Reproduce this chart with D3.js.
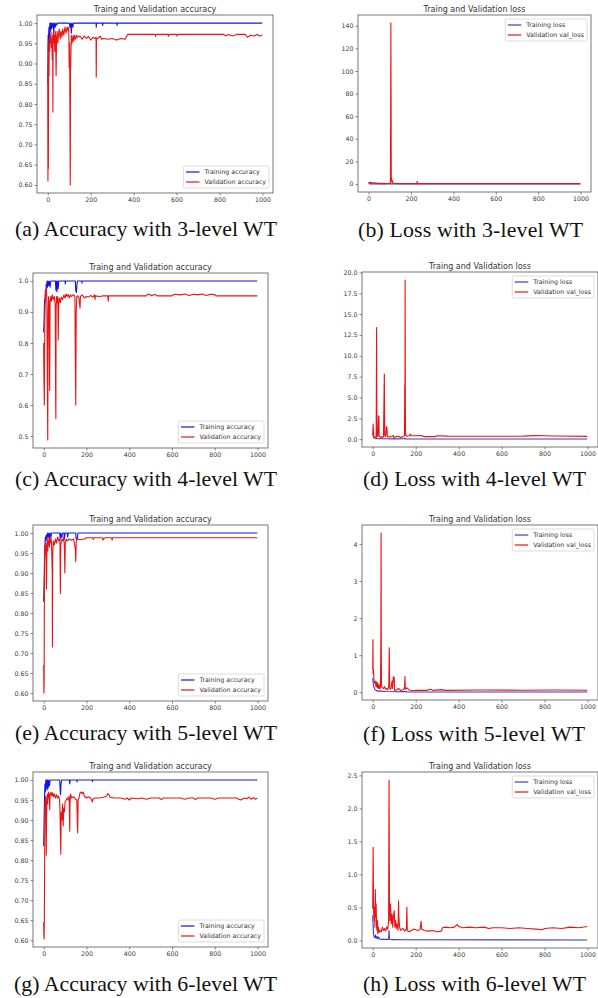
<!DOCTYPE html>
<html><head><meta charset="utf-8">
<script src="https://cdn.jsdelivr.net/npm/d3@7"></script>
<style>body{margin:0;background:#fff}svg{display:block}</style>
</head><body>
<svg id="fig" width="598" height="998"></svg>
<script>
// ---------- tick labels ----------
const epochTicks = [0, 200, 400, 600, 800, 1000];
const accTicks05 = [0.60, 0.65, 0.70, 0.75, 0.80, 0.85, 0.90, 0.95, 1.00];
const accTicks10 = [0.5, 0.6, 0.7, 0.8, 0.9, 1.0];
const lossTicks3 = [0, 20, 40, 60, 80, 100, 120, 140];
const lossTicks4 = [0, 2.5, 5, 7.5, 10, 12.5, 15, 17.5, 20];
const lossTicks5 = [0, 1, 2, 3, 4];
const lossTicks6 = [0, 0.5, 1, 1.5, 2, 2.5];

// ---------- texts ----------
const accTitle = "Traing and Validation accuracy";
const lossTitle = "Traing and Validation loss";
const accLegend = ["Training accuracy", "Validation accuracy"];
const lossLegend = ["Training loss", "Validation val_loss"];
const captions = ["(a) Accuracy with 3-level WT", "(b) Loss with 3-level WT",
  "(c) Accuracy with 4-level WT", "(d) Loss with 4-level WT",
  "(e) Accuracy with 5-level WT", "(f) Loss with 5-level WT",
  "(g) Accuracy with 6-level WT", "(h) Loss with 6-level WT"];

// ---------- series: [epoch, value] ----------
const accTrain3 = [[0,0.85],[1,0.94],[2,0.97],[3,0.93],[4,0.97],[6,0.99],[8,0.96],[10,1.0],[12,0.98],[14,1.0],[17,0.985],[19,1.0],[22,0.99],[25,1.0],[28,0.975],[31,1.0],[35,0.99],[38,1.0],[42,0.995],[45,1.0],[100,1.0],[104,0.99],[107,1.0],[110,0.975],[113,1.0],[117,0.99],[120,1.0],[225,1.0],[226,0.99],[227,1.0],[255,1.0],[256,0.994],[257,1.0],[322,1.0],[323,0.994],[324,1.0],[999,1.0]];
const accVal3 = [[0,0.85],[1,0.61],[2,0.90],[3,0.64],[4,0.93],[5,0.95],[6,0.87],[7,0.96],[9,0.93],[11,0.97],[13,0.95],[15,0.98],[17,0.94],[19,0.96],[21,0.91],[23,0.97],[24,0.78],[25,0.96],[27,0.98],[29,0.95],[31,0.97],[33,0.93],[35,0.98],[37,0.96],[39,0.87],[41,0.96],[44,0.98],[47,0.95],[50,0.97],[54,0.985],[58,0.96],[62,0.98],[66,0.965],[70,0.985],[75,0.97],[80,0.99],[85,0.975],[90,0.99],[95,0.98],[98,0.99],[100,0.89],[102,0.95],[104,0.69],[105,0.60],[106,0.88],[108,0.92],[110,0.97],[113,0.95],[116,0.96],[118,0.97],[122,0.955],[125,0.97],[130,0.96],[135,0.97],[140,0.965],[150,0.968],[160,0.96],[170,0.968],[180,0.962],[190,0.967],[200,0.958],[210,0.965],[220,0.962],[225,0.965],[226,0.867],[227,0.96],[235,0.963],[245,0.968],[250,0.96],[260,0.962],[280,0.96],[300,0.962],[320,0.958],[340,0.962],[360,0.96],[372,0.972],[400,0.972],[500,0.972],[502,0.967],[505,0.972],[560,0.972],[562,0.967],[565,0.972],[600,0.972],[602,0.968],[606,0.972],[820,0.972],[830,0.968],[840,0.972],[860,0.968],[880,0.972],[920,0.972],[930,0.965],[945,0.97],[960,0.968],[975,0.972],[985,0.968],[999,0.97]];
const lossTrain3 = [[0,0.4],[5,0.1],[20,0.05],[999,0.0]];
const lossVal3 = [[0,1.5],[3,0.8],[5,1.6],[8,0.9],[12,1.4],[16,0.7],[20,1.2],[25,0.6],[30,1.0],[35,0.5],[40,0.9],[45,0.4],[50,0.5],[60,0.3],[70,0.5],[80,0.3],[90,0.4],[100,0.5],[103,2.0],[104,60],[105,142.5],[106,80],[107,3],[108,5],[110,1.2],[112,3],[114,0.8],[120,0.4],[150,0.3],[200,0.3],[228,0.3],[229,2.4],[230,0.4],[300,0.3],[999,0.25]];

const accTrain4 = [[0,0.834],[2,0.88],[4,0.94],[6,0.93],[8,0.97],[10,0.96],[12,0.99],[14,0.975],[16,1.0],[18,0.98],[20,1.0],[23,0.985],[26,1.0],[30,0.98],[33,1.0],[55,1.0],[57,0.97],[59,1.0],[62,0.965],[64,1.0],[68,0.975],[70,1.0],[100,1.0],[101,0.99],[102,1.0],[148,1.0],[150,0.968],[153,0.963],[156,0.99],[158,1.0],[178,1.0],[179,0.993],[180,1.0],[999,1.0]];
const accVal4 = [[0,0.80],[1,0.70],[3,0.60],[5,0.85],[7,0.93],[9,0.97],[11,0.95],[13,0.98],[15,0.93],[17,0.70],[19,0.487],[21,0.90],[23,0.95],[25,0.93],[27,0.75],[28,0.647],[30,0.93],[33,0.95],[36,0.935],[40,0.955],[45,0.94],[50,0.95],[54,0.92],[56,0.62],[57,0.556],[58,0.90],[60,0.95],[63,0.93],[66,0.95],[68,0.81],[70,0.92],[73,0.945],[78,0.93],[82,0.948],[88,0.94],[95,0.955],[100,0.945],[105,0.958],[110,0.95],[115,0.956],[120,0.945],[125,0.955],[130,0.95],[140,0.956],[146,0.95],[148,0.75],[150,0.60],[152,0.90],[155,0.95],[160,0.952],[165,0.945],[170,0.912],[172,0.95],[180,0.955],[190,0.945],[200,0.95],[210,0.948],[220,0.953],[230,0.948],[238,0.955],[240,0.94],[242,0.952],[260,0.95],[280,0.952],[300,0.952],[302,0.935],[304,0.952],[480,0.952],[485,0.957],[500,0.955],[505,0.952],[520,0.957],[530,0.952],[600,0.952],[610,0.957],[640,0.955],[660,0.958],[680,0.953],[700,0.957],[720,0.955],[740,0.958],[760,0.953],[780,0.957],[800,0.956],[805,0.952],[999,0.952]];
const lossTrain4 = [[0,0.6],[3,0.3],[6,0.15],[10,0.1],[20,0.06],[40,0.04],[60,0.05],[100,0.03],[148,0.04],[150,0.15],[152,0.03],[200,0.02],[999,0.01]];
const lossVal4 = [[0,0.5],[2,1.8],[3,1.2],[5,0.3],[8,0.2],[12,0.3],[16,0.2],[17,6],[18,13.4],[19,5],[20,0.3],[24,0.4],[27,2.8],[29,2.6],[30,0.3],[35,0.2],[40,0.3],[45,0.2],[50,0.3],[54,7.8],[56,0.4],[60,0.3],[64,1.5],[66,1.4],[68,0.3],[75,0.25],[85,0.3],[95,0.45],[97,0.2],[110,0.3],[120,0.35],[130,0.2],[140,0.3],[148,0.4],[149,6.5],[150,3],[151,19.1],[152,4],[153,0.5],[160,0.35],[170,0.4],[175,0.6],[178,0.4],[200,0.4],[230,0.42],[240,0.3],[260,0.32],[290,0.3],[300,0.4],[350,0.36],[400,0.35],[500,0.34],[600,0.35],[700,0.36],[760,0.42],[800,0.40],[850,0.37],[999,0.33]];

const accTrain5 = [[0,0.829],[2,0.88],[4,0.94],[6,0.97],[8,0.99],[10,0.98],[12,0.995],[15,0.985],[18,1.0],[21,0.99],[24,1.0],[27,0.985],[30,1.0],[34,0.99],[37,1.0],[75,1.0],[77,0.985],[80,1.0],[85,0.988],[88,1.0],[95,1.0],[97,0.985],[100,1.0],[110,1.0],[112,0.99],[115,1.0],[150,1.0],[152,0.985],[157,0.985],[160,1.0],[999,1.0]];
const accVal5 = [[0,0.67],[1,0.60],[2,0.62],[3,0.80],[4,0.90],[5,0.94],[6,0.97],[8,0.95],[10,0.975],[12,0.93],[13,0.86],[15,0.96],[17,0.985],[19,0.955],[21,0.98],[23,0.97],[25,0.99],[27,0.965],[29,0.985],[31,0.975],[34,0.99],[37,0.97],[40,0.90],[41,0.715],[42,0.94],[45,0.98],[50,0.97],[55,0.985],[60,0.975],[65,0.99],[70,0.98],[76,0.985],[78,0.848],[80,0.97],[85,0.985],[90,0.98],[94,0.99],[97,0.96],[99,0.90],[101,0.975],[105,0.985],[110,0.98],[120,0.985],[130,0.982],[140,0.985],[148,0.96],[150,0.928],[152,0.975],[155,0.985],[170,0.983],[190,0.985],[200,0.988],[230,0.988],[232,0.984],[235,0.988],[275,0.988],[277,0.982],[280,0.986],[290,0.988],[318,0.988],[320,0.982],[322,0.988],[999,0.988]];
const lossTrain5 = [[0,0.38],[2,0.25],[5,0.15],[10,0.08],[15,0.05],[25,0.03],[40,0.03],[60,0.02],[100,0.015],[150,0.02],[160,0.01],[999,0.005]];
const lossVal5 = [[0,0.6],[1,1.42],[2,0.5],[4,0.6],[6,0.3],[9,0.25],[12,0.3],[15,0.15],[18,0.28],[21,0.12],[24,0.25],[27,0.1],[30,0.2],[33,0.08],[36,0.15],[38,1.5],[39,4.3],[40,0.9],[41,0.15],[45,0.12],[50,0.1],[55,0.15],[60,0.08],[65,0.1],[70,0.06],[75,0.2],[77,1.2],[79,0.1],[84,0.08],[90,0.3],[92,0.1],[96,0.42],[98,0.3],[100,0.4],[102,0.05],[110,0.06],[120,0.1],[130,0.05],[140,0.06],[148,0.1],[150,0.42],[152,0.08],[160,0.12],[170,0.06],[190,0.04],[200,0.05],[250,0.05],[270,0.08],[280,0.05],[320,0.07],[340,0.05],[500,0.06],[700,0.055],[850,0.06],[999,0.055]];

const accTrain6 = [[0,0.835],[2,0.90],[4,0.96],[6,0.99],[8,0.97],[10,1.0],[12,0.98],[14,1.0],[16,0.975],[18,1.0],[21,0.98],[24,1.0],[27,0.985],[30,1.0],[75,1.0],[77,0.975],[79,0.963],[81,0.99],[84,1.0],[120,1.0],[122,0.99],[124,1.0],[155,1.0],[156,0.995],[157,1.0],[227,1.0],[228,0.996],[229,1.0],[999,1.0]];
const accVal6 = [[0,0.645],[1,0.61],[2,0.603],[3,0.645],[4,0.75],[5,0.86],[6,0.92],[7,0.95],[8,0.93],[9,0.96],[10,0.94],[11,0.90],[12,0.812],[13,0.88],[15,0.95],[17,0.965],[19,0.94],[21,0.96],[23,0.97],[25,0.955],[27,0.965],[28,0.926],[30,0.96],[34,0.97],[38,0.96],[42,0.968],[46,0.958],[50,0.965],[55,0.955],[60,0.963],[65,0.955],[70,0.96],[74,0.95],[76,0.93],[78,0.87],[80,0.815],[82,0.92],[85,0.90],[88,0.94],[91,0.885],[94,0.93],[97,0.92],[100,0.945],[105,0.95],[110,0.955],[115,0.95],[119,0.96],[121,0.9],[122,0.872],[123,0.94],[126,0.965],[130,0.955],[140,0.958],[150,0.952],[155,0.95],[157,0.9],[159,0.868],[161,0.95],[165,0.955],[170,0.968],[175,0.97],[180,0.966],[185,0.97],[190,0.96],[200,0.955],[210,0.958],[220,0.955],[228,0.945],[230,0.952],[240,0.955],[260,0.955],[280,0.957],[295,0.96],[300,0.966],[305,0.963],[310,0.957],[330,0.955],[360,0.955],[380,0.952],[390,0.955],[400,0.95],[410,0.955],[440,0.953],[460,0.955],[480,0.952],[500,0.955],[540,0.955],[550,0.951],[560,0.955],[640,0.955],[660,0.952],[680,0.955],[700,0.955],[710,0.951],[720,0.955],[780,0.955],[800,0.952],[820,0.955],[900,0.955],[920,0.95],[940,0.955],[950,0.953],[960,0.957],[970,0.952],[980,0.956],[990,0.952],[999,0.955]];
const lossTrain6 = [[0,0.38],[2,0.2],[4,0.1],[6,0.06],[10,0.04],[13,0.08],[16,0.03],[20,0.06],[24,0.02],[28,0.05],[32,0.02],[40,0.015],[74,0.015],[76,0.15],[78,0.02],[90,0.01],[150,0.008],[999,0.005]];
const lossVal6 = [[0,0.48],[2,1.41],[4,0.45],[6,0.3],[8,0.5],[10,0.2],[12,0.77],[14,0.35],[16,0.55],[18,0.2],[20,0.15],[22,0.3],[24,0.1],[26,0.2],[30,0.12],[35,0.15],[40,0.13],[45,0.2],[50,0.15],[55,0.18],[60,0.14],[65,0.2],[70,0.17],[74,0.3],[76,2.43],[78,0.6],[80,0.3],[83,0.55],[86,0.25],[90,0.4],[93,0.2],[96,0.35],[100,0.45],[103,0.2],[107,0.3],[110,0.18],[114,0.25],[118,0.15],[120,0.6],[122,0.35],[125,0.2],[130,0.15],[140,0.18],[150,0.14],[157,0.18],[159,0.5],[161,0.15],[170,0.13],[180,0.15],[190,0.17],[200,0.16],[210,0.15],[220,0.16],[225,0.29],[228,0.17],[240,0.15],[260,0.14],[280,0.15],[300,0.13],[320,0.14],[325,0.19],[340,0.2],[360,0.19],[380,0.2],[395,0.24],[400,0.21],[420,0.19],[450,0.2],[480,0.19],[520,0.2],[540,0.18],[560,0.19],[600,0.19],[640,0.18],[680,0.19],[720,0.18],[760,0.17],[790,0.16],[800,0.18],[840,0.19],[880,0.18],[920,0.2],[960,0.19],[999,0.21]];

// ---------- layout (positions / styles) ----------
const layout = [
  {train: accTrain3, val: accVal3, ticks: accTicks05, fmt: ".2f", kind: "acc", box: [37, 15, 273, 193], cap: [15, 236, 277]},
  {train: lossTrain3, val: lossVal3, ticks: lossTicks3, fmt: "d", kind: "loss", box: [358, 15, 591, 192], cap: [358, 236.5, 583]},
  {train: accTrain4, val: accVal4, ticks: accTicks10, fmt: ".1f", kind: "acc", box: [33, 273, 268, 448], cap: [15, 486, 277]},
  {train: lossTrain4, val: lossVal4, ticks: lossTicks4, fmt: ".1f", kind: "loss", box: [362, 272, 598, 447], cap: [363, 486, 586]},
  {train: accTrain5, val: accVal5, ticks: accTicks05, fmt: ".2f", kind: "acc", box: [33, 525, 268, 701], cap: [15, 740, 277]},
  {train: lossTrain5, val: lossVal5, ticks: lossTicks5, fmt: "d", kind: "loss", box: [362, 525, 598, 700], cap: [363, 741, 585]},
  {train: accTrain6, val: accVal6, ticks: accTicks05, fmt: ".2f", kind: "acc", box: [33, 772, 268, 947], cap: [14, 990.5, 277]},
  {train: lossTrain6, val: lossVal6, ticks: lossTicks6, fmt: ".1f", kind: "loss", box: [362, 772, 598, 948], cap: [363, 990.5, 586]}
];

const svg = d3.select("#fig");
const sansFont = "DejaVu Sans, sans-serif";
const blueAcc = "#1414e6", blueLoss = "#3a3ac8", red = "#ea1414";

layout.forEach((p, i) => {
  const [x0, y0, x1, y1] = p.box;
  const g = svg.append("g");
  const all = p.train.concat(p.val);
  const ymin = d3.min(all, d => d[1]), ymax = d3.max(all, d => d[1]);
  const ypad = (ymax - ymin) * 0.05;
  const x = d3.scaleLinear().domain([-49.95, 1048.95]).range([x0, x1]);
  const y = d3.scaleLinear().domain([ymin - ypad, ymax + ypad]).range([y1, y0]);

  const clipId = "clip" + i;
  g.append("clipPath").attr("id", clipId).append("rect")
    .attr("x", x0).attr("y", y0).attr("width", x1 - x0).attr("height", y1 - y0);

  const line = d3.line().x(d => x(d[0])).y(d => y(d[1]));
  const trainColor = p.kind === "acc" ? blueAcc : blueLoss;
  const plot = g.append("g").attr("clip-path", `url(#${clipId})`);
  plot.append("path").datum(p.train).attr("d", line)
    .attr("fill", "none").attr("stroke", trainColor).attr("stroke-width", 1.1).attr("stroke-linejoin", "round");
  plot.append("path").datum(p.val).attr("d", line)
    .attr("fill", "none").attr("stroke", red).attr("stroke-width", 1.1).attr("stroke-linejoin", "round");

  // frame
  g.append("rect").attr("x", x0).attr("y", y0).attr("width", x1 - x0).attr("height", y1 - y0)
    .attr("fill", "none").attr("stroke", "#555").attr("stroke-width", 0.8);

  // axes
  const ax = g.append("g").attr("transform", `translate(0,${y1})`)
    .call(d3.axisBottom(x).tickValues(epochTicks).tickFormat(d3.format("d")).tickSize(2.5).tickPadding(2));
  const ay = g.append("g").attr("transform", `translate(${x0},0)`)
    .call(d3.axisLeft(y).tickValues(p.ticks).tickFormat(d3.format(p.fmt)).tickSize(2.5).tickPadding(2));
  [ax, ay].forEach(a => {
    a.select(".domain").remove();
    a.selectAll("line").attr("stroke", "#555").attr("stroke-width", 0.7);
    a.selectAll("text").attr("font-family", sansFont).attr("font-size", 6.3).attr("fill", "#3a3a3a");
  });

  // title
  g.append("text").attr("x", (x0 + x1) / 2).attr("y", y0 - 3.5).attr("text-anchor", "middle")
    .attr("font-family", sansFont).attr("font-size", 8).attr("fill", "#333")
    .text(p.kind === "acc" ? accTitle : lossTitle);

  // legend
  const labels = p.kind === "acc" ? accLegend : lossLegend;
  const lg = g.append("g");
  const texts = labels.map((t, k) => lg.append("text").attr("font-family", sansFont).attr("font-size", 6.3)
    .attr("fill", "#333").text(t));
  const tw = d3.max(texts, t => t.node().getComputedTextLength());
  const bw = 2 + 14 + 5 + tw + 3, bh = 22;
  const bx = x1 - 4 - bw;
  const by = p.kind === "acc" ? y1 - 5 - bh : y0 + 4;
  lg.insert("rect", "text").attr("x", bx).attr("y", by).attr("width", bw).attr("height", bh)
    .attr("rx", 1.5).attr("fill", "#fff").attr("fill-opacity", 0.85).attr("stroke", "#cfcfcf").attr("stroke-width", 0.7);
  texts.forEach((t, k) => {
    const cy = by + 6 + k * 10;
    t.attr("x", bx + 21).attr("y", cy + 2.2);
    lg.append("line").attr("x1", bx + 2.5).attr("x2", bx + 16).attr("y1", cy).attr("y2", cy)
      .attr("stroke", k === 0 ? trainColor : red).attr("stroke-width", 1.2);
  });

  // caption
  svg.append("text").attr("x", p.cap[0]).attr("y", p.cap[1])
    .attr("font-family", "Liberation Serif, Times New Roman, serif").attr("font-size", 21.8).attr("fill", "#111")
    .attr("textLength", p.cap[2] - p.cap[0]).attr("lengthAdjust", "spacing")
    .text(captions[i]);
});
</script>
</body></html>
